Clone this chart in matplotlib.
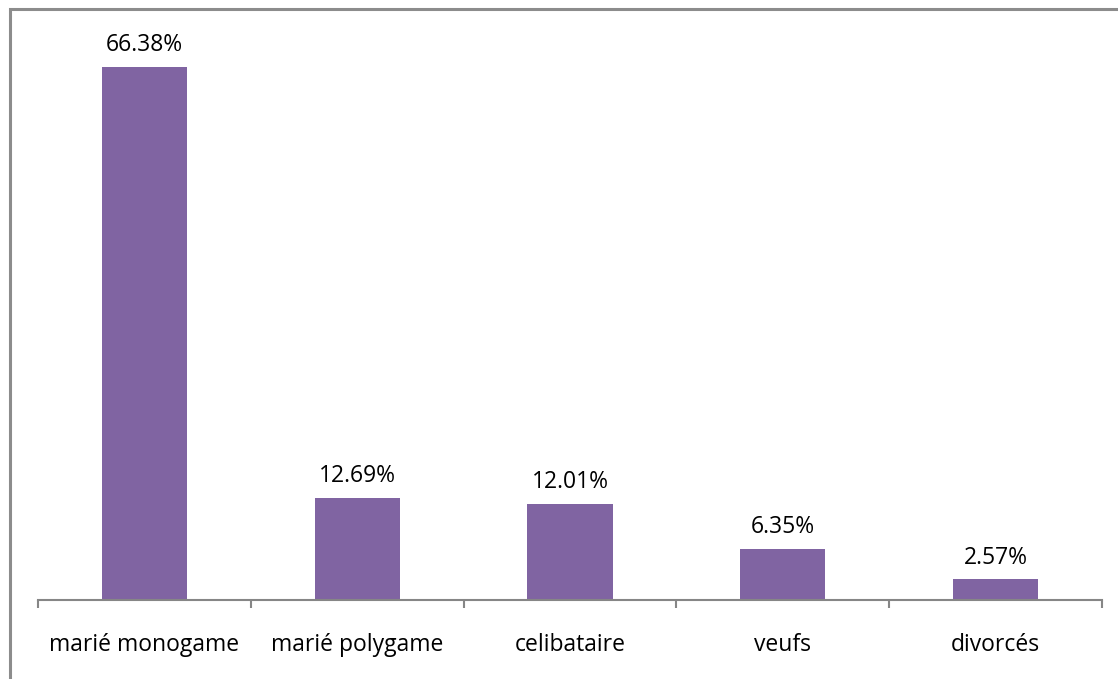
import matplotlib.pyplot as plt
import numpy as np
from matplotlib.patches import Rectangle

categories = ['marié monogame', 'marié polygame', 'celibataire', 'veufs', 'divorcés']
values = [66.38, 12.69, 12.01, 6.35, 2.57]
labels = ['66.38%', '12.69%', '12.01%', '6.35%', '2.57%']

plt.rcParams['font.family'] = ['Open Sans', 'DejaVu Sans']

W, H = 1118, 679
fig = plt.figure(figsize=(W / 100, H / 100), dpi=100)

# outer chart border (left and top visible)
fig.patches.append(Rectangle((10 / W, -0.1), 1.2, (H - 9) / H + 0.1,
                             transform=fig.transFigure, fill=False,
                             edgecolor='#8c8c8c', linewidth=2.2))

ax = fig.add_axes([38 / W, (H - 600) / H, (1102 - 38) / W, 580 / H])
x = np.arange(len(categories))
ax.bar(x, values, width=0.4, color='#8064A2')

ax.set_xlim(-0.5, len(categories) - 0.5)
ax.set_ylim(0, 580 / 8.03)

for xi, v, lab in zip(x, values, labels):
    ax.annotate(lab, (xi, v), xytext=(0, 7), textcoords='offset points',
                ha='center', va='bottom', fontsize=16.5)

for s in ['top', 'right', 'left']:
    ax.spines[s].set_visible(False)
ax.spines['bottom'].set_color('#868686')
ax.spines['bottom'].set_linewidth(1.5)
ax.set_yticks([])

# ticks at category boundaries
ax.set_xticks(np.arange(-0.5, len(categories)), minor=False)
ax.set_xticklabels([])
ax.tick_params(axis='x', length=6, width=1.5, color='#868686')
ax.set_xticks(x, minor=True)
ax.set_xticklabels(categories, minor=True, fontsize=16.5)
ax.tick_params(axis='x', which='minor', length=0, pad=23.5)

fig.savefig('out.png', dpi=100)
